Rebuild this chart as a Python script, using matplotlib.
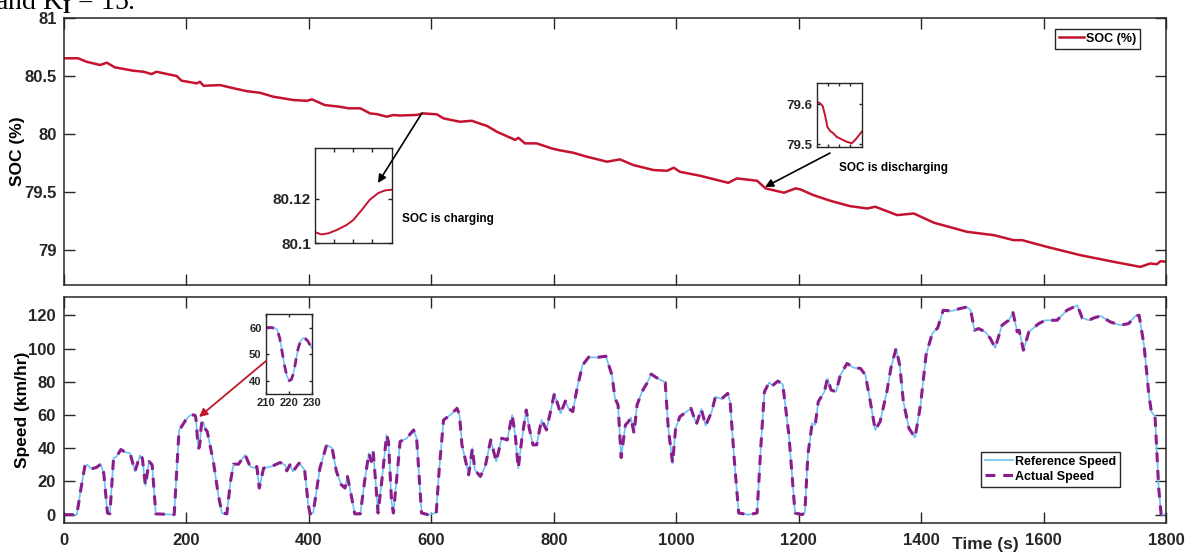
import matplotlib
matplotlib.use("Agg")
import matplotlib.pyplot as plt

# ---- SOC trace (top panel) ----
soc_t = [0, 23, 37, 59, 70, 83, 113, 130, 143, 151, 184, 192, 217, 222, 228, 255,
         271, 298, 320, 342, 375, 397, 405, 426, 451, 465, 484, 500, 511, 527, 538,
         549, 576, 587, 609, 620, 647, 666, 675, 691, 707, 737, 742, 753, 772, 797,
         808, 832, 854, 887, 908, 930, 963, 985, 996, 1006, 1039, 1085, 1099, 1132,
         1146, 1176, 1195, 1203, 1224, 1252, 1284, 1312, 1325, 1361, 1388, 1421,
         1475, 1519, 1551, 1565, 1605, 1660, 1714, 1758, 1774, 1785, 1791, 1800]
soc = [80.653, 80.653, 80.623, 80.595, 80.615, 80.575, 80.546, 80.537, 80.517, 80.537,
       80.500, 80.460, 80.437, 80.451, 80.416, 80.422, 80.402, 80.370, 80.356, 80.322,
       80.293, 80.287, 80.299, 80.250, 80.235, 80.222, 80.222, 80.178, 80.172, 80.150,
       80.164, 80.160, 80.165, 80.178, 80.170, 80.135, 80.106, 80.115, 80.098, 80.070,
       80.020, 79.950, 79.968, 79.920, 79.920, 79.876, 79.862, 79.839, 79.805, 79.762,
       79.782, 79.733, 79.690, 79.684, 79.710, 79.675, 79.641, 79.580, 79.618, 79.598,
       79.532, 79.495, 79.532, 79.523, 79.474, 79.425, 79.379, 79.359, 79.374, 79.302,
       79.316, 79.236, 79.158, 79.129, 79.086, 79.086, 79.029, 78.957, 78.900, 78.856,
       78.885, 78.879, 78.905, 78.900]

# zoomed SOC windows
chg_t = [575.0, 576.7, 578.5, 580.7, 583.3, 585.0, 587.2, 589.3, 591.5, 593.3, 595.0]
chg_soc = [80.105, 80.104, 80.1045, 80.106, 80.1083, 80.1105, 80.115, 80.1196,
           80.1226, 80.1238, 80.1241]
dis_t = [1136.0, 1139.0, 1141.3, 1143.4, 1145.5, 1147.9, 1150.8, 1153.8, 1158.2,
         1162.7, 1167.1, 1170.1, 1173.0, 1176.0]
dis_soc = [79.606, 79.602, 79.595, 79.5725, 79.543, 79.533, 79.527, 79.518, 79.512,
           79.506, 79.502, 79.510, 79.520, 79.531]

# ---- speed trace (bottom panel) ----
spd_t = [0, 21, 27, 34, 38, 45, 53, 60, 65, 71, 75, 81, 86, 93, 100, 108, 116, 124,
         128, 133, 139, 144, 150, 180, 184, 188, 192, 199, 205, 210, 212, 214, 215,
         216, 217, 218, 219, 220, 221, 222, 223, 224, 225, 226, 227, 228, 229, 230,
         234, 244, 252, 258, 266, 272, 277, 285, 296, 304, 312, 315, 319, 326, 339,
         353, 361, 364, 369, 374, 384, 393, 399, 402, 407, 418, 429, 438, 445, 453,
         459, 463, 469, 475, 484, 491, 498, 502, 505, 509, 513, 519, 527, 530, 535,
         538, 543, 549, 560, 571, 576, 584, 595, 608, 613, 620, 631, 642, 646, 650,
         655, 661, 667, 671, 680, 688, 697, 706, 715, 724, 732, 737, 742, 748, 755,
         760, 766, 772, 780, 788, 794, 801, 811, 819, 824, 831, 838, 847, 857, 870,
         885, 895, 900, 905, 910, 917, 922, 926, 931, 936, 944, 952, 959, 968, 982,
         987, 994, 999, 1006, 1017, 1024, 1033, 1041, 1048, 1058, 1064, 1074, 1084,
         1088, 1095, 1102, 1118, 1132, 1138, 1144, 1152, 1157, 1166, 1174, 1184,
         1194, 1205, 1210, 1215, 1222, 1227, 1232, 1242, 1247, 1253, 1261, 1268,
         1279, 1290, 1301, 1309, 1317, 1325, 1333, 1344, 1351, 1359, 1365, 1371,
         1380, 1390, 1399, 1408, 1418, 1427, 1436, 1450, 1463, 1475, 1481, 1487,
         1494, 1505, 1513, 1521, 1532, 1543, 1550, 1557, 1560, 1567, 1576, 1592,
         1603, 1622, 1638, 1655, 1663, 1674, 1682, 1693, 1709, 1725, 1739, 1750,
         1756, 1764, 1772, 1776, 1782, 1788, 1792, 1800]
ref_speed = [0, 0, 14, 29, 30, 27.6, 28.4, 30.4, 25, 1, 0.5, 34, 35, 39.2, 37.6, 37, 26,
             35.6, 34, 17.6, 32, 30, 0.5, 0, 25, 51, 53, 57, 59.5, 60, 60, 59.8, 59,
             56, 51, 46, 42, 40, 40.5, 43, 48, 52.5, 55, 56, 55.8, 55, 53.5, 52,
             50, 32, 12, 1, 0.5, 20, 30.4, 30.4, 36, 29, 28, 29, 16, 28, 29,
             31.4, 30, 26.4, 30, 26, 31, 27, 6, 0.5, 1, 28, 42, 40, 26, 18,
             16, 23, 12, 0.5, 0.5, 20, 37, 32, 38, 20, 1, 20, 48, 44, 8,
             1, 20, 44, 46, 51, 46, 1, 0, 1, 28, 57, 60, 64, 60, 42,
             34, 24, 40, 27, 23, 29, 45, 32, 46, 45, 60, 48, 28, 46, 63,
             52, 42, 42, 57, 51, 61, 73, 61, 68.4, 64, 62, 76, 90, 94.8, 94.6,
             95.4, 84, 70, 66, 34.4, 54, 56, 58.4, 49, 66, 74, 79, 84.6, 82.4, 79.6,
             52, 31, 52, 59, 62, 64, 54.4, 63.6, 53.6, 62, 71, 69.6, 73,
             68, 32, 1, 0, 1, 40, 74, 79.6, 77.6, 80.4, 78.4, 48,
             1, 0, 1, 36, 55, 54, 68, 74, 82, 75, 74, 84,
             91, 88.4, 88, 84, 68, 51, 56, 74, 89, 100, 90, 68,
             52, 46.4, 66, 96, 109, 112.4, 123, 122.6, 124, 125, 123, 111,
             112, 110, 106, 100.4, 114, 117, 121.6, 110, 111, 99, 110, 115,
             117, 117, 123, 126, 118.4, 117, 118.4, 119.6, 116, 114, 115, 119.6,
             120, 102, 72, 62, 59, 16, 0, 0]
act_speed = list(ref_speed)  # the controller tracks the reference almost exactly

x_ticks = list(range(0, 1801, 200))
soc_ticks = [79, 79.5, 80, 80.5, 81]
soc_ticklabels = ["79", "79.5", "80", "80.5", "81"]
spd_ticks = [0, 20, 40, 60, 80, 100, 120]

DARK = "#262626"
RED = "#C4122F"
BLUE = "#6EC1F0"
PURPLE = "#8B1C8C"

plt.rcParams["font.family"] = ["Liberation Sans", "DejaVu Sans"]
plt.rcParams["font.weight"] = "bold"
plt.rcParams["axes.labelweight"] = "bold"
plt.rcParams["mathtext.fontset"] = "custom"
plt.rcParams["mathtext.rm"] = "Liberation Serif"


def style(ax, size, ticklen, lw=1.1):
    for s in ax.spines.values():
        s.set_linewidth(lw)
        s.set_color(DARK)
    ax.tick_params(direction="in", top=True, right=True, length=ticklen,
                   width=1.0, colors=DARK, labelsize=size)


fig = plt.figure(figsize=(11.89, 5.54), dpi=100)

# text cut off from the page above the figure
fig.text(-0.004, 1 - 9 / 554, r"and K$_\mathrm{I}$ = 15.", fontsize=20,
         family="Liberation Serif", weight="normal", va="baseline", color="black")

# ---------- top: SOC ----------
ax1 = fig.add_axes([0.0538, 0.4856, 0.9269, 0.4819])
ax1.plot(soc_t, soc, color=RED, lw=1.8, label="SOC (%)")
ax1.set_xlim(0, 1800)
ax1.set_ylim(78.7, 81)
ax1.set_xticks(x_ticks)
ax1.set_xticklabels([])
ax1.set_yticks(soc_ticks)
ax1.set_yticklabels(soc_ticklabels)
style(ax1, 12, 8)
ax1.tick_params(axis="y", pad=5)
ax1.set_ylabel("SOC (%)", fontsize=12.5)
ax1.yaxis.set_label_coords(-0.0354, 0.5)
ax1.legend(loc="upper right", bbox_to_anchor=(0.9764, 0.9588), fontsize=9,
           frameon=True, fancybox=False, edgecolor=DARK, framealpha=1,
           borderpad=0.3, handlelength=2.0, handletextpad=0.2, borderaxespad=0)

# charging inset
axc = fig.add_axes([0.2649, 0.5608, 0.0645, 0.1726])
axc.plot(chg_t, chg_soc, color=RED, lw=1.4)
axc.set_xlim(575, 595)
axc.set_ylim(80.1, 80.143)
axc.set_xticks([580, 585, 590])
axc.set_xticklabels([])
axc.set_yticks([80.1, 80.12])
axc.set_yticklabels(["80.1", "80.12"])
style(axc, 11, 3, lw=1.0)
axc.tick_params(axis="y", pad=3)

# discharging inset
axd = fig.add_axes([0.6869, 0.7341, 0.0378, 0.1155])
axd.plot(dis_t, dis_soc, color=RED, lw=1.4)
axd.set_xlim(1136, 1176)
axd.set_ylim(79.492, 79.652)
axd.set_xticks([1146, 1156, 1166])
axd.set_xticklabels([])
axd.set_yticks([79.5, 79.6])
axd.set_yticklabels(["79.5", "79.6"])
style(axd, 9.5, 2.5, lw=1.0)
axd.tick_params(axis="y", pad=3)

arrow_k = dict(arrowstyle="-|>", color="black", lw=1.2, mutation_scale=12,
               shrinkA=0, shrinkB=0)
fig.add_artist(matplotlib.patches.FancyArrowPatch(
    (0.3549, 0.7960), (0.3179, 0.6697), transform=fig.transFigure, **arrow_k))
fig.add_artist(matplotlib.patches.FancyArrowPatch(
    (0.6981, 0.7238), (0.6434, 0.6625), transform=fig.transFigure, **arrow_k))
fig.text(0.3381, 0.6047, "SOC is charging", fontsize=8.5, va="center", color="black")
fig.text(0.7056, 0.6968, "SOC is discharging", fontsize=8.5, va="center", color="black")

# ---------- bottom: speed ----------
ax2 = fig.add_axes([0.0538, 0.0560, 0.9269, 0.4079])
ax2.plot(spd_t, ref_speed, color=BLUE, lw=1.2, label="Reference Speed")
ax2.plot(spd_t, act_speed, color=PURPLE, lw=2.2, ls=(0, (3.2, 2.6)),
         label="Actual Speed")
ax2.set_xlim(0, 1800)
ax2.set_ylim(-5, 131)
ax2.set_xticks(x_ticks)
ax2.set_yticks(spd_ticks)
style(ax2, 12, 8)
ax2.tick_params(axis="x", pad=7)
ax2.tick_params(axis="y", pad=6)
ax2.set_ylabel("Speed (km/hr)", fontsize=12.5)
ax2.yaxis.set_label_coords(-0.0309, 0.5)
ax2.legend(loc="upper right", bbox_to_anchor=(0.9583, 0.3142), fontsize=9,
           frameon=True, fancybox=False, edgecolor=DARK, framealpha=1,
           borderpad=0.3, handlelength=2.2, handletextpad=0.2, labelspacing=0.25,
           borderaxespad=0)
fig.text(0.8284, 0.018, "Time (s)", fontsize=12.5, ha="center", va="center",
         color=DARK)

# speed inset
axs = fig.add_axes([0.2235, 0.2888, 0.0392, 0.1439])
axs.plot(spd_t, ref_speed, color=BLUE, lw=1.1)
axs.plot(spd_t, act_speed, color=PURPLE, lw=2.0, ls=(0, (3.2, 2.6)))
axs.set_xlim(210, 230)
axs.set_ylim(35, 65)
axs.set_xticks([210, 220, 230])
axs.set_yticks([40, 50, 60])
style(axs, 8, 2.5, lw=1.0)
axs.tick_params(pad=3)

fig.add_artist(matplotlib.patches.FancyArrowPatch(
    (0.2237, 0.3484), (0.1674, 0.2473), transform=fig.transFigure,
    arrowstyle="-|>", color="#C0182A", lw=1.3, mutation_scale=12,
    shrinkA=0, shrinkB=0))

fig.savefig("out.png", dpi=100)
